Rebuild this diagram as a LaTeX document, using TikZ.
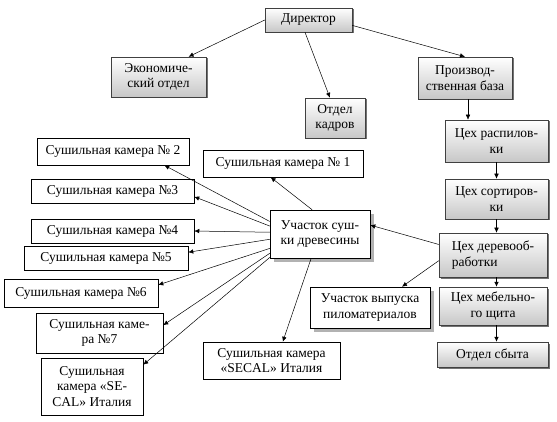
\documentclass[tikz,border=0pt]{standalone}
\usepackage{fontspec}
\setmainfont{Liberation Serif}
\usetikzlibrary{positioning,arrows.meta,calc,shadows}
\tikzset{
  gbox/.style={draw=black!75,line width=0.5pt,top color=white,bottom color=black!22,
    drop shadow={shadow xshift=1.5pt,shadow yshift=-1.5pt,fill=black!55,opacity=1},
    align=center,inner sep=1pt,font=\fontsize{13.5}{15.5}\selectfont},
  wbox/.style={draw,line width=0.5pt,fill=white,align=center,inner sep=1pt,
    font=\fontsize{13.5}{15.5}\selectfont},
  sbox/.style={wbox,drop shadow={shadow xshift=4pt,shadow yshift=-4pt,fill=black!30,opacity=1}},
  arr/.style={-{Latex[length=5pt,width=4.5pt]},line width=0.5pt},
}
\begin{document}
\begin{tikzpicture}[x=1pt,y=-1pt]
  \useasboundingbox (0,0) rectangle (557,422);
  % management
  \node[gbox,minimum width=87pt,minimum height=24pt] (dir) at (308.5,20) {Директор};
  \node[gbox,minimum width=95pt,minimum height=40pt] (econ) at (158.5,77) {Экономиче-\\ский отдел};
  \node[gbox,minimum width=60pt,minimum height=40pt] (kadr) at (335,118) {Отдел\\кадров};
  \node[gbox,minimum width=94pt,minimum height=42pt] (baza) at (465,78) {Производ-\\ственная база};
  % production chain
  \node[gbox,minimum width=103pt,minimum height=42pt] (raspil) at (496.5,141) {Цех распилов-\\ки};
  \node[gbox,minimum width=103pt,minimum height=40pt] (sort) at (496.5,199) {Цех сортиров-\\ки};
  \node[gbox,minimum width=108pt,minimum height=44pt,align=left] (derevo) at (493,255) {Цех деревооб-\\работки};
  \node[gbox,minimum width=108pt,minimum height=38pt] (mebel) at (493,306) {Цех мебельно-\\го щита};
  \node[gbox,minimum width=111pt,minimum height=25pt] (sbyt) at (492.5,354.5) {Отдел сбыта};
  \node[sbox,minimum width=120pt,minimum height=41pt] (vypusk) at (370,307.5) {Участок выпуска\\пиломатериалов};
  \node[sbox,minimum width=100pt,minimum height=48pt] (sushka) at (320,234) {Участок суш-\\ки древесины};
  % drying chambers
  \node[wbox,minimum width=160pt,minimum height=27pt] (kam1) at (283,163.5) {Сушильная камера № 1};
  \node[wbox,minimum width=152pt,minimum height=27pt] (kam2) at (113,151.5) {Сушильная камера № 2};
  \node[wbox,minimum width=163pt,minimum height=24pt] (kam3) at (112.5,191) {Сушильная камера №3};
  \node[wbox,minimum width=163pt,minimum height=24pt] (kam4) at (112.5,231) {Сушильная камера №4};
  \node[wbox,minimum width=164pt,minimum height=24pt] (kam5) at (106,258) {Сушильная камера №5};
  \node[wbox,minimum width=154pt,minimum height=28pt] (kam6) at (81,293) {Сушильная камера №6};
  \node[wbox,minimum width=127pt,minimum height=40pt] (kam7) at (99.5,333) {Сушильная каме-\\ра №7};
  \node[wbox,minimum width=102pt,minimum height=57pt] (kam8) at (92,386.5) {Сушильная\\камера «SE-\\CAL» Италия};
  \node[wbox,minimum width=137pt,minimum height=37pt] (kam9) at (271.5,360.5) {Сушильная камера\\«SECAL» Италия};
  % connectors
  \coordinate (bz) at ($(baza.south)+(3,0)$);
  \draw[arr] (dir.west) -- (econ.34);
  \draw[arr] (dir.-106) -- (kadr.104);
  \draw[arr] (dir.-7) -- (baza.north);
  \draw[arr] (bz) -- (bz |- raspil.north);
  \draw[arr] (raspil.south) -- (sort.north);
  \draw[arr] (sort.south) -- (sort.south |- derevo.north);
  \draw[arr] (sort.south |- derevo.south) -- (sort.south |- mebel.north);
  \draw[arr] (sort.south |- mebel.south) -- (sort.south |- sbyt.north);
  \draw[arr] (derevo.169) -- (sushka.10);
  \draw[arr] (derevo.186) -- (vypusk.33);
  \draw[arr] (sushka.108) -- (kam1.-132);
  \draw[arr] (sushka.166) -- (kam2.-15);
  \draw[arr] (sushka.171) -- (kam3.-4);
  \draw[arr] (sushka.178) -- (kam4.east);
  \draw[arr] (sushka.186) -- (kam5.4);
  \draw[arr] (sushka.196) -- (kam6.6);
  \draw[arr] (sushka.201) -- (kam7.7);
  \draw[arr] (sushka.205) -- (kam8.23);
  \draw[arr] (sushka.-110) -- (kam9.59);
\end{tikzpicture}
\end{document}
